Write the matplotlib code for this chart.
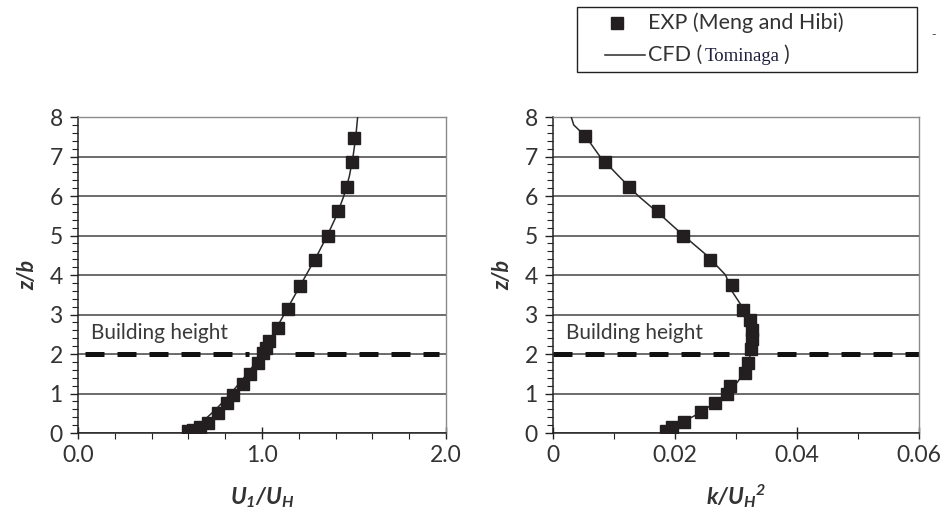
#!/usr/bin/env python
import numpy as np
import matplotlib
matplotlib.use('Agg')
import matplotlib.pyplot as plt
from matplotlib.lines import Line2D
from matplotlib.patches import Rectangle
from matplotlib.ticker import MultipleLocator

plt.rcParams['mathtext.fontset'] = 'custom'
plt.rcParams['mathtext.rm'] = 'Lato:bold:italic'
plt.rcParams['mathtext.it'] = 'Lato:bold:italic'
plt.rcParams['mathtext.bf'] = 'Lato:bold:italic'

TICK_FONT = ['Liberation Sans Narrow', 'Lato', 'DejaVu Sans']
DARK = '#333333'
MARK = '#231f20'

# Mean streamwise velocity U1/UH
exp_u = [0.60, 0.627, 0.663, 0.708, 0.763, 0.808, 0.844, 0.898, 0.935, 0.98,
         1.004, 1.02, 1.04, 1.089, 1.14, 1.208, 1.286, 1.357, 1.415, 1.46,
         1.49, 1.50]
exp_u_z = [0.04, 0.08, 0.16, 0.26, 0.50, 0.75, 0.96, 1.24, 1.50, 1.77,
           2.02, 2.15, 2.32, 2.66, 3.15, 3.73, 4.37, 4.98, 5.63, 6.23,
           6.86, 7.48]
cfd_u = [0.58, 0.62, 0.68, 0.75, 0.83, 0.92, 1.00, 1.06, 1.12, 1.18, 1.24,
         1.30, 1.355, 1.405, 1.445, 1.475, 1.495, 1.51, 1.52]
cfd_u_z = [0.0, 0.1, 0.3, 0.6, 1.0, 1.5, 2.0, 2.5, 3.0, 3.5, 4.0,
           4.5, 5.0, 5.5, 6.0, 6.5, 7.0, 7.5, 8.0]

# Turbulent kinetic energy k/UH^2
exp_k = [0.0185, 0.0195, 0.0215, 0.0242, 0.0266, 0.0286, 0.029, 0.0314,
         0.032, 0.0324, 0.0326, 0.0327, 0.0323, 0.0311, 0.0293, 0.02574,
         0.02137, 0.01727, 0.0125, 0.00852, 0.00525]
exp_k_z = [0.04, 0.15, 0.27, 0.52, 0.77, 1.0, 1.19, 1.53, 1.78, 2.13, 2.37,
           2.62, 2.87, 3.12, 3.75, 4.38, 4.99, 5.62, 6.22, 6.85, 7.52]
cfd_k = [0.0183, 0.019, 0.0215, 0.024, 0.0268, 0.0285, 0.0303, 0.0316,
         0.0324, 0.0326, 0.0323, 0.031, 0.0293, 0.0283, 0.0252, 0.0214,
         0.0178, 0.0140, 0.0108, 0.0077, 0.0054, 0.0034, 0.0030]
cfd_k_z = [0.0, 0.1, 0.3, 0.5, 0.8, 1.0, 1.3, 1.6, 2.0, 2.4, 2.8, 3.2, 3.6,
           4.0, 4.5, 5.0, 5.5, 6.0, 6.5, 7.0, 7.5, 7.8, 8.0]

building_z = 2.0


def style_axes(ax, xmax, xmajor, xminor, xfmt):
    ax.set_xlim(0, xmax)
    ax.set_ylim(0, 8)
    ax.yaxis.set_major_locator(MultipleLocator(1))
    ax.yaxis.set_minor_locator(MultipleLocator(0.2))
    ax.xaxis.set_major_locator(MultipleLocator(xmajor))
    ax.xaxis.set_minor_locator(MultipleLocator(xminor))
    ax.xaxis.set_major_formatter(xfmt)
    ax.grid(axis='y', which='major', color='#444444', linewidth=1.1)
    ax.set_axisbelow(True)
    for side in ('left', 'bottom'):
        ax.spines[side].set_color('#222222')
        ax.spines[side].set_linewidth(1.1)
    for side in ('top', 'right'):
        ax.spines[side].set_color('#8a8a8a')
        ax.spines[side].set_linewidth(1.0)
    ax.tick_params(which='major', direction='inout', length=9, width=1.0,
                   color='#222222', labelcolor=DARK, labelsize=16.5, pad=4)
    ax.tick_params(which='minor', direction='out', length=4, width=0.8,
                   color='#222222')
    ax.tick_params(axis='y', which='major', direction='out', length=6, pad=5)
    for lab in ax.get_xticklabels() + ax.get_yticklabels():
        lab.set_family(TICK_FONT)
    ax.set_ylabel('z/b', fontsize=15.5, fontweight='bold', style='italic',
                  family='Lato', color=DARK, labelpad=8)


def draw_profile(ax, x_exp, z_exp, x_cfd, z_cfd):
    ax.plot(x_cfd, z_cfd, color='#2a2a2a', linewidth=1.1, zorder=3)
    ax.plot(x_exp, z_exp, linestyle='none', marker='s', markersize=8.6,
            color=MARK, zorder=4)


fig = plt.figure(figsize=(9.43, 5.15), dpi=100)
ax1 = fig.add_axes([0.0827, 0.1592, 0.3902, 0.6136])
ax2 = fig.add_axes([0.5864, 0.1592, 0.3881, 0.6136])

style_axes(ax1, 2.0, 1.0, 0.2, lambda v, p: '%.1f' % v)
style_axes(ax2, 0.06, 0.02, 0.01, lambda v, p: '0' if v == 0 else '%.2f' % v)

# building height markers (dashed, interrupted near the profile)
dash = dict(color='#111111', linewidth=3.6, linestyle=(0, (3.8, 2.6)),
            dash_capstyle='butt', zorder=2)
ax1.plot([0.04, 0.93], [building_z, building_z], **dash)
ax1.plot([1.18, 1.96], [building_z, building_z], **dash)
ax2.plot([0.0, 0.0288], [building_z, building_z], **dash)
ax2.plot([0.0368, 0.06], [building_z, building_z], **dash)

draw_profile(ax1, exp_u, exp_u_z, cfd_u, cfd_u_z)
draw_profile(ax2, exp_k, exp_k_z, cfd_k, cfd_k_z)

for ax in (ax1, ax2):
    ax.text(0.035, 0.317, 'Building height', transform=ax.transAxes,
            fontsize=15, family='Lato', color='#3a3a3a', va='center')

ax1.set_xlabel(r'$U_1/U_H$', fontsize=16.5, color=DARK, labelpad=14)
ax2.set_xlabel(r'$k/U_H{}^2$', fontsize=16.5, color=DARK, labelpad=12)

# legend box drawn in figure pixels
W, H = 943.0, 515.0


def fx(px):
    return px / W


def fy(py):
    return 1 - py / H


fig.patches.append(Rectangle((fx(577), fy(72)), fx(917) - fx(577),
                             fy(7) - fy(72), transform=fig.transFigure,
                             fill=False, edgecolor='#222222', linewidth=1.0))
fig.lines.append(Line2D([fx(617)], [fy(23)], marker='s', markersize=8.6,
                        color=MARK, transform=fig.transFigure))
fig.lines.append(Line2D([fx(605), fx(645)], [fy(55), fy(55)], color='#2a2a2a',
                        linewidth=1.1, transform=fig.transFigure))
fig.text(fx(648), fy(23), 'EXP (Meng and Hibi)', fontsize=15.5, family='Lato',
         color=DARK, va='center')
t1 = fig.text(fx(648), fy(61), 'CFD (', fontsize=15.5, family='Lato',
              color=DARK, va='baseline')
t2 = fig.add_artist(plt.Annotation('Tominaga', xy=(1, 0), xycoords=t1,
                                   xytext=(2, 0), textcoords='offset points',
                                   fontsize=13.5, family='Liberation Serif',
                                   color='#1c1c3c', va='bottom'))
fig.add_artist(plt.Annotation(')', xy=(1, 0), xycoords=t2, xytext=(2, 0),
                              textcoords='offset points', fontsize=15.5,
                              family='Lato', color=DARK, va='bottom'))
fig.text(fx(931), fy(35), '-', fontsize=9, color='#555555', va='center')

fig.savefig('out.png', dpi=100)
